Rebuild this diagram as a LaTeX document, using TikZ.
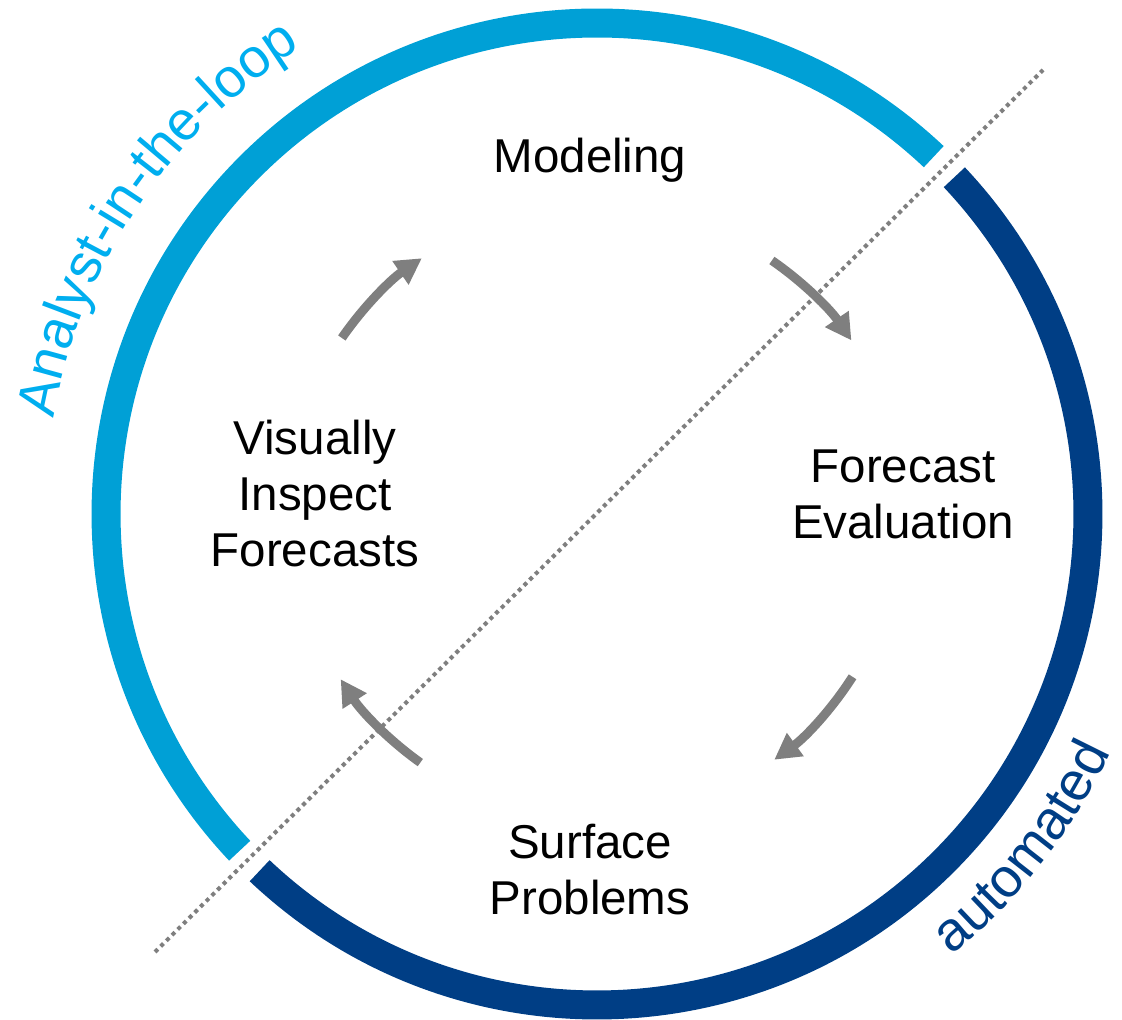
\documentclass[tikz,border=0pt]{standalone}
\usepackage{fontspec}
\setmainfont{Liberation Sans}
\usetikzlibrary{arrows.meta,decorations.text}
\definecolor{lblue}{HTML}{00A0D6}
\definecolor{dblue}{HTML}{003E85}
\definecolor{ailc}{HTML}{00AEEF}
\definecolor{arrgray}{HTML}{7F7F7F}
\begin{document}
\begin{tikzpicture}[x=1pt,y=1pt,
  ring/.style={line width=29pt},
  cyc/.style={arrgray, line width=9pt, -{Triangle[length=26pt,width=27pt]}},
  lab/.style={font=\fontsize{47.5}{56}\selectfont, align=center, text=black, inner sep=0pt},
  dotline/.style={arrgray, line width=4pt, dash pattern=on 4pt off 4pt}]
\useasboundingbox (0,0) rectangle (1122,1020);
\coordinate (c) at (597,506);

% rings
\path (c) ++(46.7:491) coordinate (l1);
\draw[ring, lblue] (l1) arc[start angle=46.7, end angle=223.3, radius=491];
\path (c) ++(226.6:491) coordinate (k1);
\draw[ring, dblue] (k1) arc[start angle=226.6, end angle=403.3, radius=491];

% labels
\node[lab] (mod) at (590,860) {Modeling};
\node[lab] (vif) at (315,526) {Visually\\Inspect\\Forecasts};
\node[lab] (fe) at (903,526) {Forecast\\Evaluation};
\node[lab] (sp) at (590,150) {Surface\\Problems};

% cycle arrows
\path (c) ++(145.4:310) coordinate (a1s);
\draw[cyc] (a1s) arc[start angle=145.4, end angle=124.4, radius=310];
\path (c) ++(55.4:308) coordinate (a2s);
\draw[cyc] (a2s) arc[start angle=55.4, end angle=34.3, radius=308];
\path (c) ++(-32.5:303) coordinate (a3s);
\draw[cyc] (a3s) arc[start angle=-32.5, end angle=-54.2, radius=303];
\path (c) ++(234.6:305) coordinate (a4s);
\draw[cyc] (a4s) arc[start angle=234.6, end angle=212.8, radius=305];

% curved texts
\path (c) ++(170:552) coordinate (ts1);
\path[decorate, decoration={text along path, text color=ailc,
  text={|\fontsize{55}{60}\selectfont|Analyst-in-the-loop}}]
  (ts1) arc[start angle=170, end angle=105, radius=552];
\path (c) ++(-51.2:566) coordinate (ts2);
\path[decorate, decoration={text along path, text color=dblue,
  text={|\fontsize{55}{60}\selectfont|automated}}]
  (ts2) arc[start angle=-51.2, end angle=-5, radius=566];

% dotted divider
\coordinate (d1) at (155,68);
\coordinate (d2) at (1043,950);
\draw[dotline] (d1) -- (d2);
\end{tikzpicture}
\end{document}
